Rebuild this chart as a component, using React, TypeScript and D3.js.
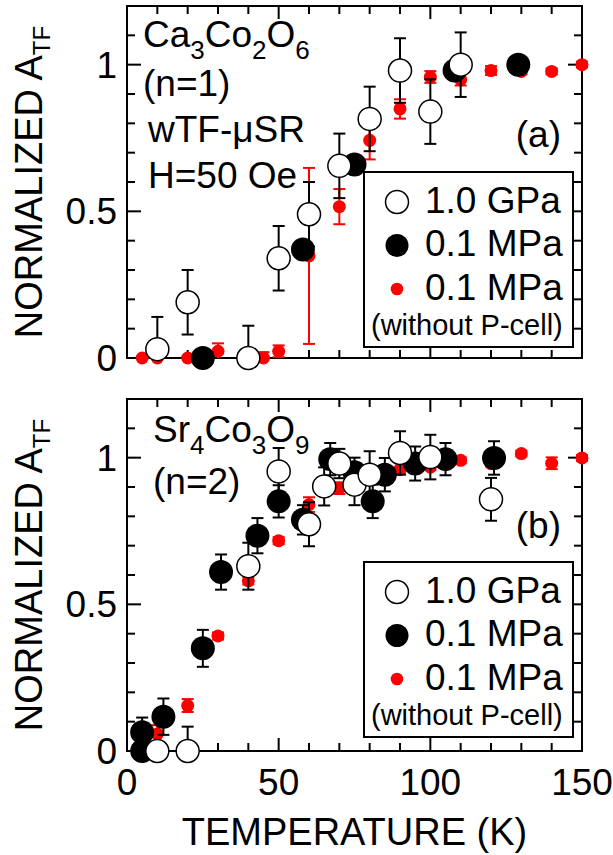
import * as d3 from "d3";

const W = 613;
const H = 855;

// temperatures (K) and normalized asymmetry, panel (a) Ca3Co2O6
const openA_T = [10, 20, 40, 50, 60, 70, 80, 90, 100, 110];
const openA_V = [0.03, 0.19, 0.0, 0.34, 0.49, 0.655, 0.815, 0.98, 0.84, 1.0];
const openA_E = [0.11, 0.11, 0.11, 0.11, 0.11, 0.11, 0.11, 0.11, 0.11, 0.11];

const blackA_T = [25, 58, 75, 108, 129];
const blackA_V = [0.0, 0.37, 0.66, 0.98, 1.0];
const blackA_E = [0, 0, 0, 0, 0];

const redA_T = [5, 10, 20, 30, 45, 50, 60, 70, 80, 90, 100, 110, 120, 130, 140, 150];
const redA_V = [0, 0, 0, 0.023, 0, 0.023, 0.348, 0.516, 0.742, 0.849, 0.958, 0.949, 0.98, 0.977, 0.977, 1.0];
const redA_E = [0.005, 0.005, 0.005, 0.027, 0.02, 0.02, 0.3, 0.06, 0.065, 0.033, 0.02, 0.02, 0.015, 0.01, 0.01, 0.01];

// panel (b) Sr4Co3O9
const openB_T = [10, 20, 40, 50, 60, 65, 70, 75, 80, 90, 100, 120];
const openB_V = [0, 0, 0.63, 0.953, 0.773, 0.902, 0.98, 0.908, 0.942, 1.016, 1.002, 0.858];
const openB_E = [0, 0.083, 0.08, 0.08, 0.075, 0.065, 0.05, 0.07, 0.08, 0.074, 0.076, 0.073];

const blackB_T = [5, 5, 12, 25, 31, 43, 50, 58, 67, 75, 81, 85, 95, 105, 121];
const blackB_V = [0, 0.064, 0.117, 0.35, 0.61, 0.734, 0.851, 0.788, 0.995, 0.95, 0.851, 0.942, 0.98, 0.995, 0.999];
const blackB_E = [0, 0.05, 0.062, 0.063, 0.06, 0.06, 0.055, 0.05, 0.055, 0.05, 0.057, 0.057, 0.058, 0.055, 0.057];

const redB_T = [10, 20, 30, 40, 50, 60, 70, 90, 100, 110, 120, 130, 140, 150];
const redB_V = [0.058, 0.155, 0.392, 0.58, 0.717, 0.84, 0.896, 0.959, 0.968, 0.991, 0.98, 1.014, 0.981, 0.999];
const redB_E = [0.03, 0.022, 0.012, 0.012, 0.012, 0.025, 0.02, 0.01, 0.01, 0.01, 0.01, 0.01, 0.02, 0.01];

const xTickLabels = [0, 50, 100, 150];
const yTickLabels = [0, 0.5, 1];
const legendLabels = ["1.0 GPa", "0.1 MPa", "0.1 MPa"];

const FONT = "'Liberation Sans', Arial, Helvetica, sans-serif";
const X0 = 127;
const X1 = 582;

const x = d3.scaleLinear().domain([0, 150]).range([X0, X1]);

function Series({ T, V, E, y, kind }) {
  const color = kind === "red" ? "#ff0000" : "#000";
  const r = kind === "red" ? 6.5 : kind === "black" ? 12 : 11.5;
  return (
    <g>
      {T.map((t, i) => {
        const e = E[i];
        if (!e) return null;
        const cx = x(t);
        const lo = Math.max(V[i] - e, 0);
        const hi = V[i] + e;
        return (
          <g key={"e" + i} stroke={color} strokeWidth={2}>
            <line x1={cx} x2={cx} y1={y(lo)} y2={y(hi)} />
            <line x1={cx - 6} x2={cx + 6} y1={y(hi)} y2={y(hi)} />
            {V[i] - e > 0 && <line x1={cx - 6} x2={cx + 6} y1={y(lo)} y2={y(lo)} />}
          </g>
        );
      })}
      {T.map((t, i) => (
        <circle
          key={"c" + i}
          cx={x(t)}
          cy={y(V[i])}
          r={r}
          fill={kind === "open" ? "#fff" : color}
          stroke={kind === "open" ? "#000" : "none"}
          strokeWidth={1.5}
        />
      ))}
    </g>
  );
}

function Frame({ y, top, bottom, showX }) {
  const xt = d3.range(0, 151, 10);
  const yt = d3.range(0, 13).map((d) => d / 10);
  return (
    <g>
      <rect x={X0} y={top} width={X1 - X0} height={bottom - top} fill="none" stroke="#000" strokeWidth={2} />
      <g stroke="#000" strokeWidth={2}>
        {xt.map((t) => {
          const len = t % 50 === 0 ? 13 : 8;
          return (
            <g key={"x" + t}>
              <line x1={x(t)} x2={x(t)} y1={bottom} y2={bottom - len} />
              <line x1={x(t)} x2={x(t)} y1={top} y2={top + len} />
            </g>
          );
        })}
        {yt.map((v) => {
          const len = Math.round(v * 10) % 5 === 0 ? 14 : 8;
          return (
            <g key={"y" + v}>
              <line x1={X0} x2={X0 + len} y1={y(v)} y2={y(v)} />
              <line x1={X1} x2={X1 - len} y1={y(v)} y2={y(v)} />
            </g>
          );
        })}
      </g>
      {yTickLabels.map((v) => (
        <text key={"yl" + v} x={117} y={y(v) + 13} textAnchor="end" fontSize={37}>
          {v}
        </text>
      ))}
      {showX &&
        xTickLabels.map((t) => (
          <text key={"xl" + t} x={x(t)} y={795} textAnchor="middle" fontSize={37}>
            {t}
          </text>
        ))}
      <text transform={`translate(42, ${(top + bottom) / 2}) rotate(-90)`} textAnchor="middle" fontSize={38}>
        NORMALIZED A
        <tspan fontSize={24} dy={8}>
          TF
        </tspan>
      </text>
    </g>
  );
}

function Legend({ top }) {
  const rows = [top + 30, top + 73.5, top + 117];
  const base = [top + 41, top + 84, top + 127.5];
  return (
    <g>
      <rect x={364} y={top} width={209} height={175} fill="#fff" stroke="#000" strokeWidth={2} />
      <circle cx={397} cy={rows[0]} r={11.5} fill="#fff" stroke="#000" strokeWidth={1.5} />
      <circle cx={397} cy={rows[1]} r={11.5} fill="#000" />
      <circle cx={397} cy={rows[2]} r={6.3} fill="#ff0000" />
      {legendLabels.map((s, i) => (
        <text key={i} x={425} y={base[i]} fontSize={37}>
          {s}
        </text>
      ))}
      <text x={371} y={top + 162.5} fontSize={29}>
        (without P-cell)
      </text>
    </g>
  );
}

export default function App() {
  const yA = d3.scaleLinear().domain([0, 1.2]).range([358, 6]);
  const yB = d3.scaleLinear().domain([0, 1.2]).range([751, 399]);
  return (
    <svg
      width={W}
      height={H}
      viewBox={`0 0 ${W} ${H}`}
      style={{ position: "absolute", left: 0, top: 0, background: "#fff" }}
      fontFamily={FONT}
    >
      <rect width={W} height={H} fill="#fff" />

      {/* panel (a) */}
      <Frame y={yA} top={6} bottom={358} showX={false} />
      <text x={143} y={47} fontSize={37}>
        Ca<tspan fontSize={26} dy={12}>3</tspan>
        <tspan dy={-12}>Co</tspan>
        <tspan fontSize={26} dy={12}>2</tspan>
        <tspan dy={-12}>O</tspan>
        <tspan fontSize={26} dy={12}>6</tspan>
      </text>
      <text x={143} y={96} fontSize={37}>(n=1)</text>
      <text x={148} y={142} fontSize={37}>wTF-μSR</text>
      <text x={148} y={188} fontSize={37}>H=50 Oe</text>
      <text x={561} y={147} fontSize={37} textAnchor="end">(a)</text>
      <Legend top={172} />
      <Series T={redA_T} V={redA_V} E={redA_E} y={yA} kind="red" />
      <Series T={blackA_T} V={blackA_V} E={blackA_E} y={yA} kind="black" />
      <Series T={openA_T} V={openA_V} E={openA_E} y={yA} kind="open" />

      {/* panel (b) */}
      <Frame y={yB} top={399} bottom={751} showX={true} />
      <text x={153} y={442} fontSize={37}>
        Sr<tspan fontSize={26} dy={12}>4</tspan>
        <tspan dy={-12}>Co</tspan>
        <tspan fontSize={26} dy={12}>3</tspan>
        <tspan dy={-12}>O</tspan>
        <tspan fontSize={26} dy={12}>9</tspan>
      </text>
      <text x={153} y={494} fontSize={37}>(n=2)</text>
      <text x={561} y={538} fontSize={37} textAnchor="end">(b)</text>
      <Legend top={562} />
      <Series T={redB_T} V={redB_V} E={redB_E} y={yB} kind="red" />
      <Series T={blackB_T} V={blackB_V} E={blackB_E} y={yB} kind="black" />
      <Series T={openB_T} V={openB_V} E={openB_E} y={yB} kind="open" />

      <text x={(X0 + X1) / 2} y={845} textAnchor="middle" fontSize={38}>
        TEMPERATURE (K)
      </text>
    </svg>
  );
}
